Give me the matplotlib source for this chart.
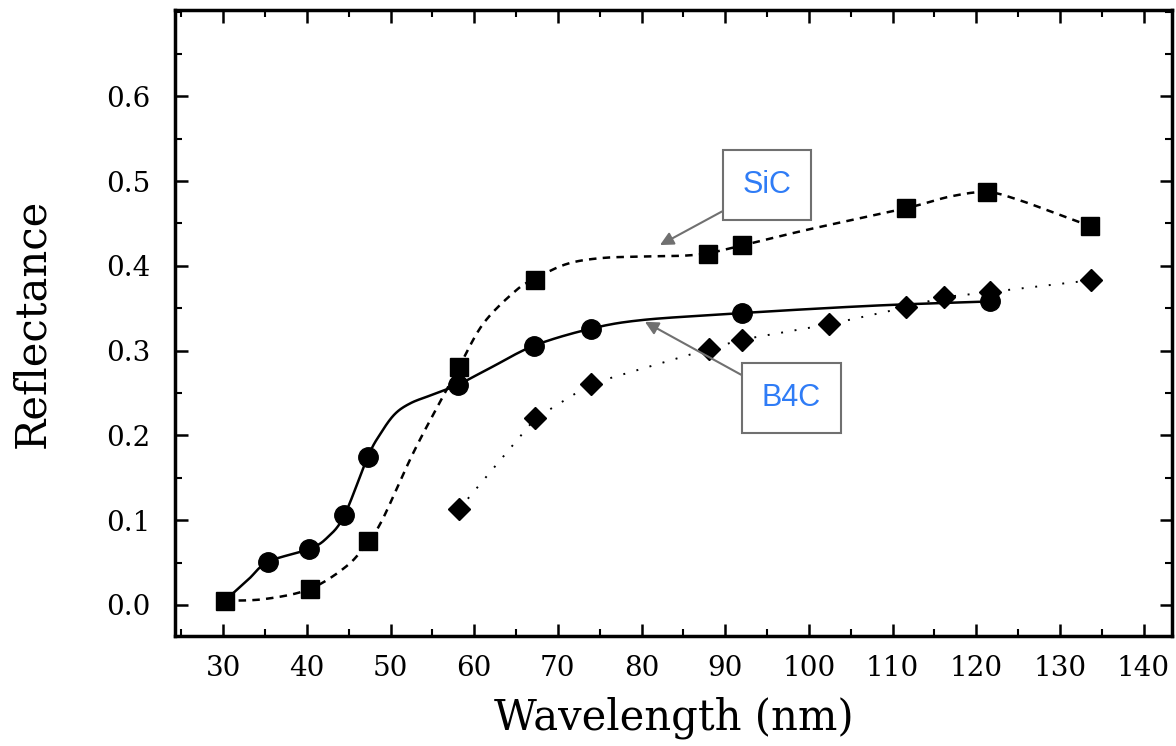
import numpy as np
import matplotlib
matplotlib.use("Agg")
import matplotlib.pyplot as plt
from matplotlib.ticker import MultipleLocator

# measured points
b4c_x = [35.4, 40.3, 44.5, 47.3, 58.1, 67.2, 74.0, 92.0, 121.6]
b4c_y = [0.051, 0.066, 0.106, 0.175, 0.260, 0.306, 0.326, 0.344, 0.358]

sic_x = [30.2, 40.4, 47.3, 58.2, 67.3, 87.9, 92.0, 111.6, 121.3, 133.6]
sic_y = [0.005, 0.019, 0.075, 0.281, 0.383, 0.414, 0.424, 0.468, 0.487, 0.447]

dia_x = [58.2, 67.3, 74.0, 88.1, 92.0, 102.4, 111.6, 116.1, 121.6, 133.7]
dia_y = [0.113, 0.220, 0.261, 0.302, 0.313, 0.331, 0.351, 0.363, 0.369, 0.383]

# fitted curves as drawn in the figure
b4c_fit_x = [30.2, 33.0, 35.4, 40.3, 42.5, 44.5, 47.3, 48.8, 50.5, 52.4, 55.0, 58.1,
             62.0, 67.2, 74.0, 80.0, 90.0, 100.0, 110.0, 121.6]
b4c_fit_y = [0.005, 0.030, 0.051, 0.066, 0.080, 0.106, 0.175, 0.202, 0.225, 0.238, 0.248, 0.260,
             0.280, 0.306, 0.326, 0.336, 0.343, 0.349, 0.354, 0.358]

sic_fit_x = [30.2, 35.0, 40.4, 44.9, 47.3, 49.0, 52.7, 56.0, 58.2, 61.1, 65.0, 67.3,
             71.0, 75.0, 80.0, 85.0, 88.0, 92.0, 100.0, 111.6, 117.0, 121.3, 125.0, 130.0, 133.6]
sic_fit_y = [0.005, 0.007, 0.019, 0.047, 0.075, 0.100, 0.179, 0.241, 0.281, 0.332, 0.371, 0.385,
             0.402, 0.409, 0.411, 0.412, 0.415, 0.424, 0.443, 0.468, 0.482, 0.487, 0.478, 0.460, 0.447]

x_ticks = [30, 40, 50, 60, 70, 80, 90, 100, 110, 120, 130, 140]
y_ticks = [0.0, 0.1, 0.2, 0.3, 0.4, 0.5, 0.6]


def smooth(xs, ys, n=20):
    # catmull-rom through the given points, only to draw a smooth line
    p = np.column_stack([xs, ys])
    p = np.vstack([p[0], p, p[-1]])
    out = []
    t = np.linspace(0, 1, n, endpoint=False)[:, None]
    for i in range(1, len(p) - 2):
        p0, p1, p2, p3 = p[i - 1], p[i], p[i + 1], p[i + 2]
        seg = 0.5 * ((2 * p1) + (-p0 + p2) * t + (2 * p0 - 5 * p1 + 4 * p2 - p3) * t ** 2
                     + (-p0 + 3 * p1 - 3 * p2 + p3) * t ** 3)
        out.append(seg)
    out.append(p[-2][None, :])
    out = np.vstack(out)
    return out[:, 0], out[:, 1]


plt.rcParams["font.family"] = ["DejaVu Serif"]

fig = plt.figure(figsize=(11.76, 7.46), dpi=100)
ax = fig.add_axes([0.149, 0.1475, 0.8476, 0.839])

sx, sy = smooth(b4c_fit_x, b4c_fit_y)
ax.plot(sx, sy, color="black", lw=1.8, solid_capstyle="round")
sx, sy = smooth(sic_fit_x, sic_fit_y)
ax.plot(sx, sy, color="black", lw=1.8, linestyle=(0, (3, 2.5)))
ax.plot(dia_x, dia_y, color="black", lw=1.4, linestyle=(0, (1, 6)))

ax.plot(b4c_x, b4c_y, "o", color="black", ms=14, zorder=3)
ax.plot(sic_x, sic_y, "s", color="black", ms=13, zorder=3)
ax.plot(dia_x, dia_y, "D", color="black", ms=11.5, zorder=3)

ax.set_xlim(24.27, 143.4)
ax.set_ylim(-0.0366, 0.7017)
ax.set_xticks(x_ticks)
ax.set_yticks(y_ticks)
ax.set_yticklabels([f"{v:.1f}" for v in y_ticks])
ax.xaxis.set_minor_locator(MultipleLocator(5))
ax.yaxis.set_minor_locator(MultipleLocator(0.05))
ax.tick_params(which="both", direction="in", top=True, right=True, labelsize=20)
ax.tick_params(axis="x", which="major", pad=14)
ax.tick_params(axis="y", which="major", pad=18)
ax.tick_params(which="major", length=9, width=1.8)
ax.tick_params(which="minor", length=5, width=1.5)
for sp in ax.spines.values():
    sp.set_linewidth(2.5)

ax.set_xlabel("Wavelength (nm)", fontsize=30, labelpad=10)
ax.set_ylabel("Reflectance", fontsize=30, labelpad=38)

# callout labels
box = dict(boxstyle="square,pad=0.65", fc="white", ec="#707070", lw=1.5)
arrow = dict(arrowstyle="-|>", color="#707070", lw=1.5, mutation_scale=20, shrinkA=0, shrinkB=0)
ax.annotate("SiC", xy=(82.2, 0.4245), xytext=(95.0, 0.495), fontsize=22, color="#2f7cf6",
            family="Liberation Sans", ha="center", va="center", bbox=box,
            arrowprops=dict(arrow, relpos=(0, 0)))
ax.annotate("B4C", xy=(80.4, 0.334), xytext=(97.9, 0.244), fontsize=22, color="#2f7cf6",
            family="Liberation Sans", ha="center", va="center", bbox=box,
            arrowprops=dict(arrow, relpos=(0, 0.9)))

fig.savefig("out.png", dpi=100)
